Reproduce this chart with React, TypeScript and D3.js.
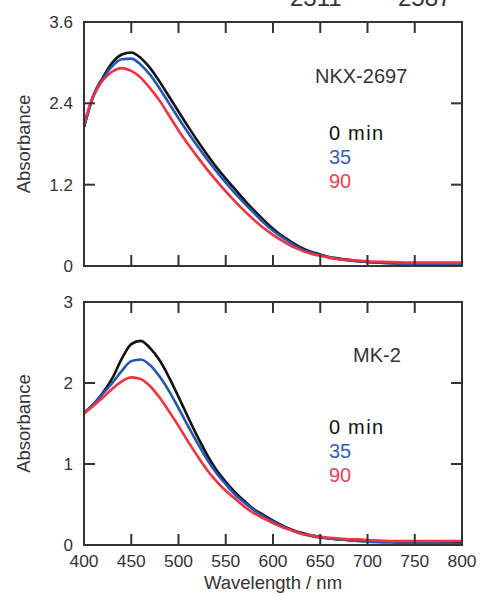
import React from "react";
import * as d3 from "d3";

const WAVELENGTHS = [400, 410, 420, 430, 440, 450, 460, 470, 480, 490, 500, 510, 520, 530, 540, 550, 560, 570, 580, 590, 600, 610, 620, 630, 640, 650, 660, 670, 680, 690, 700, 725, 750, 775, 800];

// NKX-2697 panel
const NKX_0MIN = [2.05, 2.52, 2.78, 3.0, 3.12, 3.15, 3.07, 2.92, 2.72, 2.5, 2.28, 2.06, 1.85, 1.65, 1.46, 1.29, 1.13, 0.97, 0.82, 0.68, 0.55, 0.44, 0.35, 0.27, 0.21, 0.17, 0.13, 0.11, 0.09, 0.07, 0.06, 0.04, 0.03, 0.02, 0.02];
const NKX_35MIN = [2.06, 2.5, 2.76, 2.95, 3.05, 3.06, 2.97, 2.82, 2.62, 2.4, 2.18, 1.97, 1.77, 1.58, 1.4, 1.23, 1.07, 0.92, 0.78, 0.64, 0.52, 0.42, 0.33, 0.25, 0.2, 0.16, 0.13, 0.1, 0.08, 0.07, 0.06, 0.04, 0.03, 0.02, 0.02];
const NKX_90MIN = [2.1, 2.52, 2.74, 2.87, 2.92, 2.88, 2.78, 2.62, 2.44, 2.22, 2.0, 1.8, 1.61, 1.43, 1.26, 1.1, 0.95, 0.81, 0.68, 0.56, 0.46, 0.37, 0.29, 0.23, 0.18, 0.15, 0.12, 0.1, 0.09, 0.08, 0.07, 0.06, 0.05, 0.05, 0.05];

// MK-2 panel
const MK2_0MIN = [1.63, 1.74, 1.88, 2.06, 2.3, 2.48, 2.52, 2.43, 2.28, 2.07, 1.83, 1.58, 1.34, 1.12, 0.93, 0.78, 0.65, 0.54, 0.44, 0.37, 0.3, 0.24, 0.19, 0.15, 0.12, 0.1, 0.08, 0.07, 0.06, 0.05, 0.05, 0.04, 0.03, 0.02, 0.02];
const MK2_35MIN = [1.63, 1.74, 1.87, 2.0, 2.15, 2.27, 2.29, 2.22, 2.08, 1.9, 1.69, 1.47, 1.26, 1.06, 0.89, 0.75, 0.62, 0.52, 0.43, 0.35, 0.29, 0.23, 0.18, 0.14, 0.11, 0.09, 0.08, 0.07, 0.06, 0.05, 0.04, 0.03, 0.02, 0.02, 0.01];
const MK2_90MIN = [1.62, 1.72, 1.82, 1.93, 2.02, 2.07, 2.05, 1.96, 1.82, 1.65, 1.47, 1.28, 1.1, 0.93, 0.79, 0.67, 0.57, 0.47, 0.39, 0.33, 0.27, 0.22, 0.18, 0.14, 0.12, 0.1, 0.09, 0.08, 0.07, 0.07, 0.06, 0.05, 0.05, 0.05, 0.05];

const X_TICKS = [400, 450, 500, 550, 600, 650, 700, 750, 800];
const NKX_Y_TICKS = [0, 1.2, 2.4, 3.6];
const NKX_Y_LABELS = ["0", "1.2", "2.4", "3.6"];
const MK2_Y_TICKS = [0, 1, 2, 3];
const MK2_Y_LABELS = ["0", "1", "2", "3"];
const LEGEND_LABELS = ["0", "35", "90"];
const TOP_LABELS = ["2311", "2587"];

const COLORS = ["#111111", "#2456b4", "#f2323f"];
const LEGEND_COLORS = ["#111111", "#2f62c2", "#f2404c"];
const FONT = "'Liberation Sans', Arial, Helvetica, sans-serif";

const X0 = 84, X1 = 462;
const xScale = d3.scaleLinear().domain([400, 800]).range([X0, X1]);

type PanelProps = {
  top: number;
  bottom: number;
  yMax: number;
  yTicks: number[];
  yLabels: string[];
  series: number[][];
  name: string;
  nameX: number;
  nameY: number;
  legendY: number;
  showXLabels: boolean;
};

function Panel(p: PanelProps) {
  const y = d3.scaleLinear().domain([0, p.yMax]).range([p.bottom, p.top]);
  const line = d3
    .line<number>()
    .x((_, i) => xScale(WAVELENGTHS[i]))
    .y((v) => y(v))
    .curve(d3.curveMonotoneX);
  const tl = 11;
  const inner = X_TICKS.filter((t) => t !== 400 && t !== 800);
  const innerY = p.yTicks.filter((t) => t !== 0 && t !== p.yMax);
  return (
    <g>
      <defs>
        <clipPath id={"clip-" + p.name}>
          <rect x={X0} y={p.top} width={X1 - X0} height={p.bottom - p.top} />
        </clipPath>
      </defs>
      <g clipPath={`url(#clip-${p.name})`}>
        {p.series.map((s, i) => (
          <path key={i} d={line(s) || ""} fill="none" stroke={COLORS[i]} strokeWidth={2.6} strokeLinejoin="round" />
        ))}
      </g>
      <rect x={X0} y={p.top} width={X1 - X0} height={p.bottom - p.top} fill="none" stroke="#333" strokeWidth={2} />
      {inner.map((t) => (
        <g key={"xt" + t}>
          <line x1={xScale(t)} x2={xScale(t)} y1={p.bottom} y2={p.bottom - tl} stroke="#333" strokeWidth={2} />
          <line x1={xScale(t)} x2={xScale(t)} y1={p.top} y2={p.top + tl} stroke="#333" strokeWidth={2} />
        </g>
      ))}
      {innerY.map((t) => (
        <g key={"yt" + t}>
          <line x1={X0} x2={X0 + tl} y1={y(t)} y2={y(t)} stroke="#333" strokeWidth={2} />
          <line x1={X1} x2={X1 - tl} y1={y(t)} y2={y(t)} stroke="#333" strokeWidth={2} />
        </g>
      ))}
      {p.yTicks.map((t, i) => (
        <text key={"yl" + t} x={73} y={y(t)} dy="0.36em" textAnchor="end" fontSize={17} fill="#333" fontFamily={FONT}>
          {p.yLabels[i]}
        </text>
      ))}
      {p.showXLabels &&
        X_TICKS.map((t) => (
          <text key={"xl" + t} x={xScale(t)} y={567} textAnchor="middle" fontSize={17.4} fill="#333" fontFamily={FONT}>
            {t}
          </text>
        ))}
      <text
        transform={`translate(30,${(p.top + p.bottom) / 2}) rotate(-90)`}
        textAnchor="middle"
        fontSize={18.5}
        fill="#333"
        fontFamily={FONT}
      >
        Absorbance
      </text>
      <text x={p.nameX} y={p.nameY} fontSize={20} fill="#333" fontFamily={FONT}>
        {p.name}
      </text>
      {LEGEND_LABELS.map((l, i) => (
        <text key={"lg" + i} x={329} y={p.legendY + i * 24} fontSize={20} fill={LEGEND_COLORS[i]} fontFamily={FONT}>
          {l}
          {i === 0 && (
            <tspan x={348} letterSpacing={1.5}>
              min
            </tspan>
          )}
        </text>
      ))}
    </g>
  );
}

export default function App() {
  return (
    <svg
      width={481}
      height={596}
      viewBox="0 0 481 596"
      style={{ position: "absolute", left: 0, top: 0, background: "#fff" }}
    >
      <rect x={0} y={0} width={481} height={596} fill="#fff" />
      <text x={290} y={6} fontSize={24} fill="#333" fontFamily={FONT}>{TOP_LABELS[0]}</text>
      <text x={398} y={6} fontSize={24} fill="#333" fontFamily={FONT}>{TOP_LABELS[1]}</text>
      <Panel
        top={22}
        bottom={266}
        yMax={3.6}
        yTicks={NKX_Y_TICKS}
        yLabels={NKX_Y_LABELS}
        series={[NKX_0MIN, NKX_35MIN, NKX_90MIN]}
        name="NKX-2697"
        nameX={315}
        nameY={83}
        legendY={140}
        showXLabels={false}
      />
      <Panel
        top={302}
        bottom={545}
        yMax={3}
        yTicks={MK2_Y_TICKS}
        yLabels={MK2_Y_LABELS}
        series={[MK2_0MIN, MK2_35MIN, MK2_90MIN]}
        name="MK-2"
        nameX={353}
        nameY={362}
        legendY={434}
        showXLabels={true}
      />
      <text x={273} y={589} textAnchor="middle" fontSize={18.5} fill="#333" fontFamily={FONT}>
        Wavelength / nm
      </text>
    </svg>
  );
}
